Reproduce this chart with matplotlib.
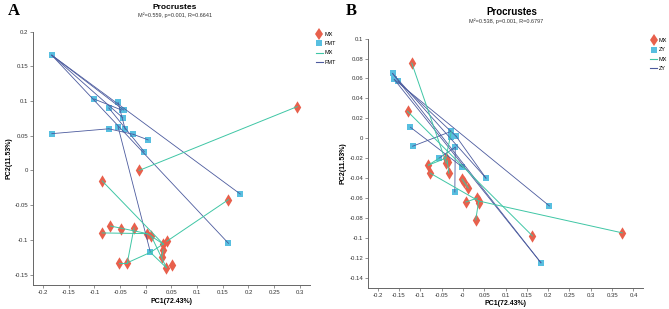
import numpy as np
import matplotlib.pyplot as plt
from matplotlib.lines import Line2D

plt.rcParams['font.family'] = ['Liberation Sans', 'DejaVu Sans']

# ---- Panel A: MX (diamonds) vs FMT (squares)
a_mx_x = [0.295, -0.013, -0.085, 0.161, -0.069, -0.049, -0.023, -0.085, 0.003,
          0.011, 0.034, 0.041, 0.034, 0.031, -0.053, -0.036, 0.040, 0.051]
a_mx_y = [0.092, 0.000, -0.015, -0.042, -0.080, -0.084, -0.083, -0.090, -0.091,
          -0.095, -0.106, -0.102, -0.114, -0.125, -0.133, -0.133, -0.140, -0.136]
a_fmt_x = [-0.183, -0.101, -0.054, -0.072, -0.047, -0.043, -0.045, -0.183, -0.072,
           -0.054, -0.040, -0.024, 0.0045, -0.003, 0.184, 0.161, 0.009]
a_fmt_y = [0.166, 0.103, 0.098, 0.090, 0.087, 0.087, 0.076, 0.053, 0.060,
           0.063, 0.059, 0.052, 0.044, 0.027, -0.034, -0.105, -0.118]
a_mx_links = [(0, 1), (2, 10), (3, 11), (7, 8), (8, 10), (4, 8), (6, 15),
              (14, 15), (12, 13), (9, 16)]
a_cross_links = [(15, 16), (10, 16), (16, 16)]   # MX idx -> FMT idx, teal
a_fmt_links = [(0, 14), (0, 15), (0, 5), (0, 6), (1, 4), (3, 13), (7, 8),
               (8, 11), (11, 12), (9, 16), (2, 10)]
a_stats = 'M²=0.559, p=0.001, R=0.6641'

# ---- Panel B: MX (diamonds) vs ZY (squares)
b_mx_x = [-0.120, -0.130, -0.081, -0.077, -0.040, -0.037, -0.039, -0.035, -0.033,
          -0.002, 0.003, 0.0125, 0.007, 0.034, 0.037, 0.038, 0.030, 0.163, 0.374]
b_mx_y = [0.0755, 0.027, -0.027, -0.035, -0.020, -0.022, -0.025, -0.024, -0.035,
          -0.041, -0.044, -0.050, -0.064, -0.060, -0.063, -0.065, -0.082, -0.098, -0.095]
b_zy_x = [-0.165, -0.161, -0.152, -0.123, -0.118, -0.027, -0.028, -0.016, -0.027,
          -0.018, -0.056, -0.001, 0.054, -0.019, 0.203, 0.183]
b_zy_y = [0.065, 0.059, 0.057, 0.011, -0.008, 0.007, 0.005, 0.002, 0.001,
          -0.009, -0.020, -0.029, -0.040, -0.054, -0.068, -0.125]
b_mx_links = [(0, 6), (1, 17), (2, 4), (3, 14), (14, 18), (9, 11), (12, 13),
              (14, 16), (5, 8)]
b_cross_links = [(2, 10), (4, 5)]
b_zy_links = [(0, 15), (1, 14), (2, 7), (0, 12), (3, 11), (4, 5), (10, 9),
              (13, 9), (7, 12), (1, 15)]
b_stats = 'M²=0.538, p=0.001, R=0.6797'

MX_C = '#e8604c'
SQ_C = '#58bfe0'
TEAL = '#3fc6a5'
NAVY = '#4c5b9e'


def draw_panel(ax, mx_x, mx_y, sq_x, sq_y, mx_links, cross_links, sq_links,
               xlim, ylim, xticks, yticks, ylabels):
    for i, j in sq_links:
        ax.plot([sq_x[i], sq_x[j]], [sq_y[i], sq_y[j]], color=NAVY, lw=0.6, zorder=3)
    for i, j in mx_links:
        ax.plot([mx_x[i], mx_x[j]], [mx_y[i], mx_y[j]], color=TEAL, lw=0.7, zorder=3)
    for i, j in cross_links:
        ax.plot([mx_x[i], sq_x[j]], [mx_y[i], sq_y[j]], color=TEAL, lw=0.7, zorder=3)
    ax.scatter(sq_x, sq_y, marker='s', s=16, color=SQ_C, lw=0, zorder=2)
    ax.scatter(mx_x, mx_y, marker='d', s=40, color=MX_C, lw=0, zorder=2)
    ax.set_xlim(*xlim)
    ax.set_ylim(*ylim)
    ax.set_xticks(xticks)
    ax.set_xticklabels([f'{t:g}' for t in xticks])
    ax.set_yticks(yticks)
    ax.set_yticklabels(ylabels)
    for s in ['top', 'right']:
        ax.spines[s].set_visible(False)
    for s in ['left', 'bottom']:
        ax.spines[s].set_color('#666666')
        ax.spines[s].set_linewidth(0.7)
    ax.tick_params(labelsize=4.3, length=2, width=0.5, color='#666666',
                   labelcolor='#333333', pad=1.5)
    ax.set_xlabel('PC1(72.43%)', fontsize=5, fontweight='bold', labelpad=2)
    ax.set_ylabel('PC2(11.53%)', fontsize=5, fontweight='bold', labelpad=2)


def legend_handles():
    return [Line2D([], [], marker='d', color=MX_C, ls='none', ms=6, mew=0),
            Line2D([], [], marker='s', color=SQ_C, ls='none', ms=4, mew=0),
            Line2D([], [], color=TEAL, lw=0.8),
            Line2D([], [], color=NAVY, lw=0.8)]


fig = plt.figure(figsize=(6.69, 3.09), dpi=100)

axA = fig.add_axes([0.0498, 0.0777, 0.413, 0.82])
draw_panel(axA, a_mx_x, a_mx_y, a_fmt_x, a_fmt_y, a_mx_links, a_cross_links,
           a_fmt_links, (-0.219, 0.319), (-0.165, 0.2),
           np.round(np.arange(-0.2, 0.31, 0.05), 2), np.round(np.arange(-0.15, 0.21, 0.05), 2),
           ['-0.15', '-0.1', '-0.05', '0', '0.05', '0.1', '0.15', '0.2'])
fig.text(0.2616, 0.975, 'Procrustes', ha='center', va='center', fontsize=6, fontweight='bold')
fig.text(0.2616, 0.952, a_stats, ha='center', va='center', fontsize=4, color='#333333')
fig.legend(legend_handles(), ['MX', 'FMT', 'MX', 'FMT'], loc='upper left',
           bbox_to_anchor=(0.468, 0.905), frameon=False, fontsize=4,
           handlelength=1.2, handletextpad=0.3, labelspacing=0.75, borderpad=0)

axB = fig.add_axes([0.5505, 0.069, 0.411, 0.806])
draw_panel(axB, b_mx_x, b_mx_y, b_zy_x, b_zy_y, b_mx_links, b_cross_links,
           b_zy_links, (-0.222, 0.423), (-0.15, 0.1),
           np.round(np.arange(-0.2, 0.41, 0.05), 2), np.round(np.arange(-0.14, 0.11, 0.02), 2),
           ['-0.14', '-0.12', '-0.1', '-0.08', '-0.06', '-0.04', '-0.02', '0',
            '0.02', '0.04', '0.06', '0.08', '0.1'])
fig.text(0.765, 0.962, 'Procrustes', ha='center', va='center', fontsize=7, fontweight='bold')
fig.text(0.757, 0.933, b_stats, ha='center', va='center', fontsize=4, color='#333333')
fig.legend(legend_handles(), ['MX', 'ZY', 'MX', 'ZY'], loc='upper left',
           bbox_to_anchor=(0.968, 0.885), frameon=False, fontsize=4,
           handlelength=1.2, handletextpad=0.3, labelspacing=0.75, borderpad=0)

fig.text(0.012, 0.965, 'A', fontsize=12, fontweight='bold', family='Liberation Serif',
         ha='left', va='center')
fig.text(0.517, 0.965, 'B', fontsize=12, fontweight='bold', family='Liberation Serif',
         ha='left', va='center')

fig.savefig('out.png', dpi=100)
